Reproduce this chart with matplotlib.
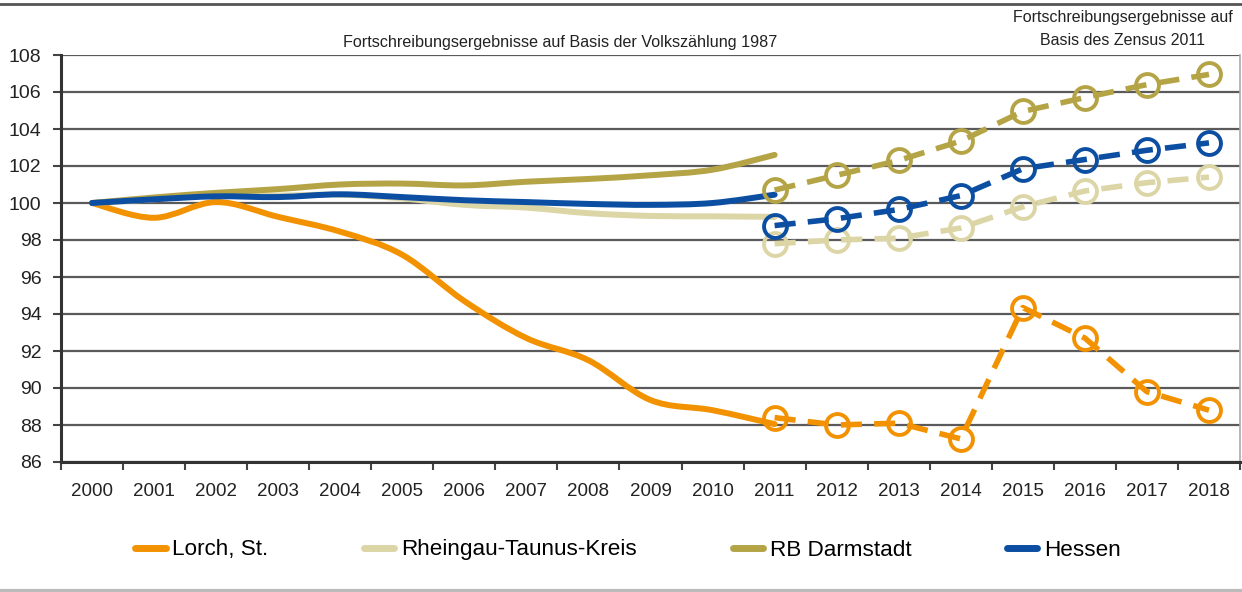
import matplotlib
matplotlib.use("Agg")
import matplotlib.pyplot as plt
from matplotlib.path import Path
from matplotlib.patches import PathPatch
from matplotlib.lines import Line2D
import numpy as np

plt.rcParams['font.family'] = ['Liberation Sans', 'DejaVu Sans']

years = [str(y) for y in range(2000, 2019)]
years_old = years[:12]   # 2000-2011
years_new = years[11:]   # 2011-2018

series_names = ["Lorch, St.", "Rheingau-Taunus-Kreis", "RB Darmstadt", "Hessen"]
colors = ["#F39200", "#DCD5A6", "#B4A446", "#0B4EA2"]

lorch_old = [100, 99.2, 100.05, 99.25, 98.45, 97.2, 94.7, 92.7, 91.5, 89.35, 88.8, 88.05]
rtk_old = [100, 100.2, 100.45, 100.4, 100.45, 100.25, 99.9, 99.75, 99.45, 99.3, 99.28, 99.25]
rb_old = [100, 100.3, 100.55, 100.75, 101.0, 101.05, 100.95, 101.15, 101.3, 101.5, 101.8, 102.6]
hessen_old = [100, 100.2, 100.36, 100.32, 100.47, 100.32, 100.15, 100.05, 99.95, 99.9, 100.0, 100.45]

lorch_new = [88.4, 88.0, 88.1, 87.25, 94.35, 92.7, 89.8, 88.8]
rtk_new = [97.8, 98.0, 98.1, 98.65, 99.8, 100.65, 101.1, 101.4]
rb_new = [100.7, 101.5, 102.3, 103.35, 104.95, 105.7, 106.4, 106.95]
hessen_new = [98.78, 99.15, 99.65, 100.4, 101.85, 102.35, 102.85, 103.25]

old_data = [lorch_old, rtk_old, rb_old, hessen_old]
new_data = [lorch_new, rtk_new, rb_new, hessen_new]

yticks = list(range(86, 110, 2))
title_left = "Fortschreibungsergebnisse auf Basis der Volkszählung 1987"
title_right = "Fortschreibungsergebnisse auf\nBasis des Zensus 2011"

W, H = 1242, 592
fig = plt.figure(figsize=(W / 100, H / 100), dpi=100)
ax = fig.add_axes([61 / W, 1 - 462 / H, (1240 - 61) / W, (462 - 55) / H])


def smooth_path(xs, ys):
    pts = np.column_stack([xs, ys]).astype(float)
    n = len(pts)
    verts = [pts[0]]
    codes = [Path.MOVETO]
    for i in range(n - 1):
        p0 = pts[i - 1] if i > 0 else pts[i]
        p1 = pts[i]
        p2 = pts[i + 1]
        p3 = pts[i + 2] if i + 2 < n else pts[i + 1]
        c1 = p1 + (p2 - p0) / 6.0
        c2 = p2 - (p3 - p1) / 6.0
        verts += [c1, c2, p2]
        codes += [Path.CURVE4] * 3
    return Path(verts, codes)


x_all = np.arange(len(years))
x_old = np.arange(len(years_old))
x_new = np.arange(len(years_old) - 1, len(years))

for ys, c in zip(old_data, colors):
    p = PathPatch(smooth_path(x_old, ys), fill=False, edgecolor=c, lw=4.3,
                  capstyle='round', joinstyle='round', zorder=3)
    ax.add_patch(p)

for ys, c in zip(new_data, colors):
    ax.plot(x_new, ys, color=c, lw=4.0, linestyle=(0, (3.8, 2.2)),
            dash_capstyle='butt', marker='o', markersize=16.5,
            markerfacecolor='none', markeredgecolor=c, markeredgewidth=2.8,
            zorder=4)

ax.set_xlim(-0.5, len(years) - 0.5)
ax.set_ylim(86, 108)
ax.set_yticks(yticks)
ax.set_yticklabels([str(v) for v in yticks])
ax.set_xticks(x_all)
ax.set_xticklabels(years)
ax.set_xticks(np.arange(-0.5, len(years)), minor=True)
ax.tick_params(axis='x', which='major', length=0, pad=15, labelsize=13.5,
               colors='#222222')
ax.tick_params(axis='x', which='minor', length=6, width=1.5, color='#444444',
               direction='out')
ax.tick_params(axis='y', length=6, width=1.5, color='#444444', pad=8,
               labelsize=14, labelcolor='#222222')

ax.grid(axis='y', color='#5a5a5a', lw=1.6, zorder=1)
ax.set_axisbelow(True)
for s in ['left', 'bottom']:
    ax.spines[s].set_color('#333333')
    ax.spines[s].set_linewidth(2.2)
ax.spines['top'].set_visible(False)
ax.spines['right'].set_color('#aaaaaa')
ax.spines['right'].set_linewidth(1.2)

fig.text(560 / W, 1 - 42 / H, title_left, ha='center', va='center',
         fontsize=11.6, color='#222222')
fig.text(1123 / W, 1 - 29 / H, title_right, ha='center', va='center',
         fontsize=11.5, color='#222222', linespacing=1.7)

# frame lines
fig.add_artist(Line2D([0, 1], [1 - 4 / H, 1 - 4 / H], color='#555555', lw=2,
                      transform=fig.transFigure))
fig.add_artist(Line2D([0, 1], [1 / H, 1 / H], color='#bbbbbb', lw=3,
                      transform=fig.transFigure))

handles = [Line2D([0], [0], color=c, lw=5, solid_capstyle='round') for c in colors]
fig.legend(handles, series_names, loc='center', bbox_to_anchor=(628 / W, 1 - 550 / H),
           ncol=4, frameon=False, fontsize=16.2, handlelength=1.35,
           handletextpad=0.3, columnspacing=4.25)

fig.savefig("out.png", dpi=100)
